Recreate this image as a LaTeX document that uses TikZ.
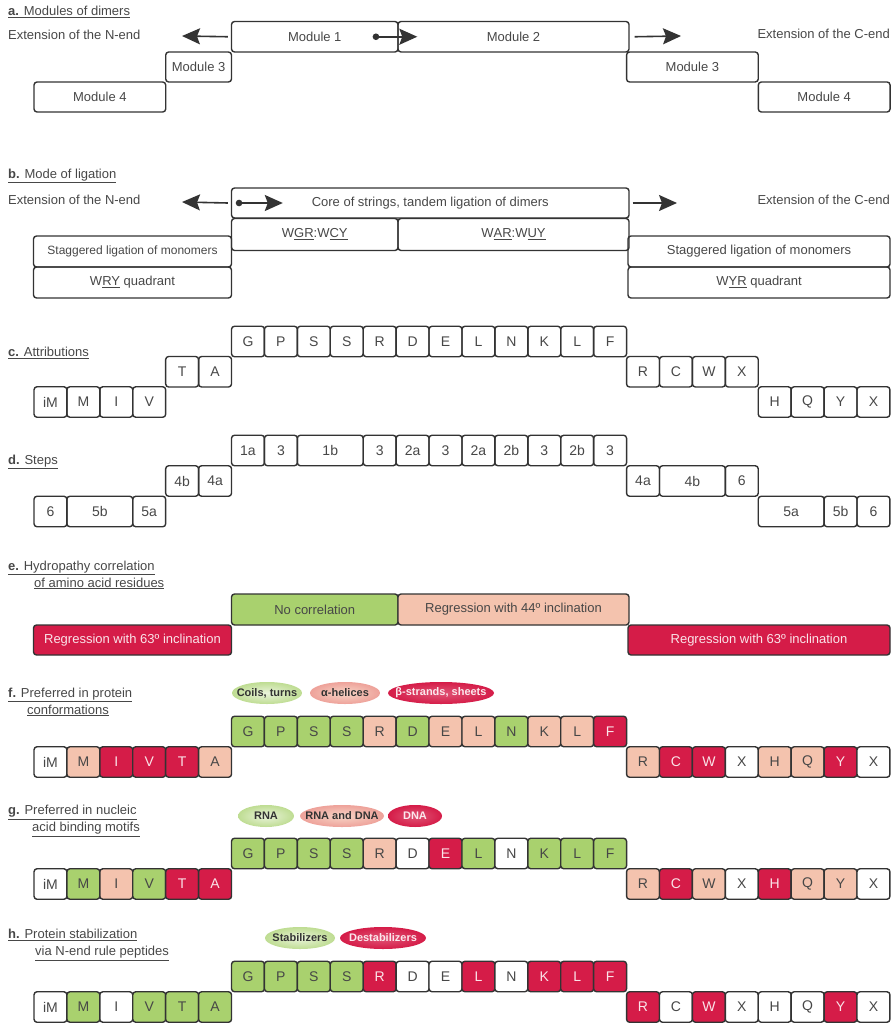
\documentclass[tikz,border=0pt]{standalone}
\usepackage{fontspec}
\setmainfont{Liberation Sans}
\usepackage{xcolor}
\definecolor{colGreen}{RGB}{169,209,110}
\definecolor{colSalmon}{RGB}{244,195,174}
\definecolor{colRed}{RGB}{213,28,72}
\colorlet{colLine}{black!80}
\colorlet{colText}{black!72}
% fill / text colour of a cell: w white, g green, s salmon, r red
\colorlet{flw}{white}\colorlet{txw}{colText}
\colorlet{flg}{colGreen}\colorlet{txg}{colText}
\colorlet{fls}{colSalmon}\colorlet{txs}{colText}
\colorlet{flr}{colRed}\colorlet{txr}{white!88!colRed}
\usepackage{tikz}
\usetikzlibrary{arrows.meta, positioning, shapes.geometric}
\tikzset{
  box/.style={draw=colLine, line width=1.4pt, rounded corners=3pt, inner sep=0pt, text=colText, font=\fontsize{13}{15}\selectfont},
  cell/.style={box, minimum width=32.92pt, minimum height=30.5pt, font=\fontsize{14}{16}\selectfont},
  title/.style={anchor=west, inner sep=0pt, text=colText, align=left, font=\fontsize{13}{17}\selectfont},
  tag/.style={ellipse, inner xsep=-20pt, inner ysep=0pt, minimum height=22pt, font=\bfseries\fontsize{11}{13}\selectfont, text=black!80},
  tagG/.style={tag, inner color=colGreen!25, outer color=colGreen!75},
  tagS/.style={tag, inner color=colSalmon!70, outer color=colSalmon!80!colRed},
  tagR/.style={tag, inner color=colRed!75, outer color=colRed, text=white!90!colRed},
  bigarrow/.style={line width=1.6pt, colLine, -{Stealth[length=18pt,width=16pt,inset=3pt]}},
  dotarrow/.style={line width=1.6pt, colLine, {Circle[length=6.5pt]}-{Stealth[length=18pt,width=16pt,inset=3pt]}},
}

\begin{document}
\begin{tikzpicture}[x=1pt, y=-1pt]
\useasboundingbox (0,0) rectangle (894,1024);

% a. modules of dimers
\node[title] (ta) at (8,12) {\underline{\textbf{a.} Modules of dimers}};
\node[title] (nA) at (8,35) {Extension of the N-end};
\node[title, anchor=east] (cA) at (890,34) {Extension of the C-end};
\node[box, minimum width=166.5pt, minimum height=30.5pt] (m1) at (314.75,36.75) {Module 1};
\node[box, minimum width=231pt, minimum height=30.5pt] (m2) at (513.5,36.75) {Module 2};
\node[box, minimum width=65.8pt, minimum height=30pt] (m3l) at (198.6,67) {Module 3};
\node[box, minimum width=131.7pt, minimum height=30pt] (m4l) at (99.85,97) {Module 4};
\node[box, minimum width=131.7pt, minimum height=30pt] (m3r) at (692.4,67) {Module 3};
\node[box, minimum width=131.7pt, minimum height=30pt] (m4r) at (824.2,97) {Module 4};
\coordinate (aNend) at (182,36);
\coordinate (aCend) at (681,36);
\draw[bigarrow] ([xshift=-3pt]m1.west) -- (aNend);
\draw[bigarrow] ([xshift=5pt]m2.east) -- (aCend);
\draw[dotarrow] ([xshift=-26pt]m1.east) -- ([xshift=20pt]m2.west);

% b. mode of ligation
\node[title] (tb) at (8,176) {\underline{\textbf{b.} Mode of ligation}};
\node[title] (nB) at (8,200) {Extension of the N-end};
\node[title, anchor=east] (cB) at (890,200) {Extension of the C-end};
\node[box, minimum width=397.5pt, minimum height=30pt] (core) at (430.25,203) {Core of strings, tandem ligation of dimers};
\node[box, minimum width=166.5pt, minimum height=32pt] (wgr) at (314.75,234.5) {W\underline{GR}:W\underline{CY}};
\node[box, minimum width=231pt, minimum height=32pt] (war) at (513.5,234.5) {W\underline{AR}:W\underline{UY}};
\node[box, minimum width=198pt, minimum height=31pt, font=\fontsize{12}{14}\selectfont] (stagl) at (132.5,251.5) {Staggered ligation of monomers};
\node[box, minimum width=198pt, minimum height=31pt] (wry) at (132.5,282.5) {W\underline{RY} quadrant};
\node[box, minimum width=262pt, minimum height=31pt] (stagr) at (759,251.5) {Staggered ligation of monomers};
\node[box, minimum width=262pt, minimum height=31pt] (wyr) at (759,282.5) {W\underline{YR} quadrant};
\coordinate (bNend) at (182,202);
\coordinate (bCend) at (677,203);
\draw[bigarrow] ([xshift=-3pt]core.west) -- (bNend);
\draw[bigarrow] ([xshift=3pt]core.east) -- (bCend);
\draw[dotarrow] ([xshift=5pt]core.west) -- ([xshift=52pt]core.west);

% c. attributions
\node[title] (tc) at (8,353) {\underline{\textbf{c.} Attributions}};
\foreach \t/\r [count=\i from 0] in {iM/3,M/3,I/3,V/3,T/2,A/2,G/1,P/1,S/1,S/1,R/1,D/1,E/1,L/1,N/1,K/1,L/1,F/1,R/2,C/2,W/2,X/2,H/3,Q/3,Y/3,X/3}
  \node[cell] (attr\i) at ({50.46+32.92*\i}, {341.5+30.25*(\r-1)}) {\t};

% d. steps
\node[title] (td) at (8,462) {\underline{\textbf{d.} Steps}};
\foreach \t/\c/\n/\r [count=\i] in {6/0/1/3, 5b/1/2/3, 5a/3/1/3, 4b/4/1/2, 4a/5/1/2, 1a/6/1/1, 3/7/1/1, 1b/8/2/1, 3/10/1/1, 2a/11/1/1, 3/12/1/1, 2a/13/1/1, 2b/14/1/1, 3/15/1/1, 2b/16/1/1, 3/17/1/1, 4a/18/1/2, 4b/19/2/2, 6/21/1/2, 5a/22/2/3, 5b/24/1/3, 6/25/1/3}
  \node[cell, minimum width={32.92pt*\n}] (step\i) at ({34+32.92*(\c+\n/2)}, {450.5+30.5*(\r-1)}) {\t};

% e. hydropathy
\node[title] (te) at (8,575) {\underline{\textbf{e.} Hydropathy correlation}\\\hspace*{26pt}\underline{of amino acid residues}};
\node[box, fill=colGreen, minimum width=166.5pt, minimum height=31pt] (nocor) at (314.75,609.5) {No correlation};
\node[box, fill=colSalmon, minimum width=231pt, minimum height=31pt] (reg44) at (513.5,609.5) {Regression with 44º inclination};
\node[box, fill=colRed, text=txr, minimum width=198pt, minimum height=30pt] (reg63l) at (132.5,640) {Regression with 63º inclination};
\node[box, fill=colRed, text=txr, minimum width=262pt, minimum height=30pt] (reg63r) at (759,640) {Regression with 63º inclination};

% f. protein conformations
\node[title] (tf) at (8,702) {\underline{\textbf{f.} Preferred in protein}\\\hspace*{19pt}\underline{conformations}};
\node[tagG, minimum width=70pt] (coil) at (267,693) {Coils, turns};
\node[tagS, minimum width=70pt] (helix) at (345,693) {α-helices};
\node[tagR, minimum width=106pt] (sheet) at (441,693) {β-strands, sheets};
\foreach \t/\k [count=\i from 0] in {iM/w,M/s,I/r,V/r,T/r,A/s,G/g,P/g,S/g,S/g,R/s,D/g,E/s,L/s,N/g,K/s,L/s,F/r,R/s,C/r,W/r,X/w,H/s,Q/s,Y/r,X/w}
  \node[cell, fill=fl\k, text=tx\k] (conf\i) at ({50.46+32.92*\i}, {762-30.5*(\i>5)*(\i<18)}) {\t};

% g. nucleic acid binding
\node[title] (tg) at (8,821) {\underline{\textbf{g.} Preferred in nucleic}\\\hspace*{24pt}\underline{acid binding motifs}};
\node[tagG, minimum width=56pt] (rna) at (266,816) {RNA};
\node[tagS, minimum width=84pt] (rnadna) at (342,816) {RNA and DNA};
\node[tagR, minimum width=54pt] (dna) at (415,816) {DNA};
\foreach \t/\k [count=\i from 0] in {iM/w,M/g,I/s,V/g,T/r,A/r,G/g,P/g,S/g,S/g,R/s,D/w,E/r,L/g,N/w,K/g,L/g,F/g,R/s,C/r,W/s,X/w,H/r,Q/s,Y/s,X/w}
  \node[cell, fill=fl\k, text=tx\k] (nucl\i) at ({50.46+32.92*\i}, {884-30.5*(\i>5)*(\i<18)}) {\t};

% h. N-end rule
\node[title] (th) at (8,945) {\underline{\textbf{h.} Protein stabilization}\\\hspace*{27pt}\underline{via N-end rule peptides}};
\node[tagG, minimum width=70pt] (stab) at (300,938) {Stabilizers};
\node[tagR, minimum width=86pt] (destab) at (383,938) {Destabilizers};
\foreach \t/\k [count=\i from 0] in {iM/w,M/g,I/w,V/g,T/g,A/g,G/g,P/g,S/g,S/g,R/r,D/w,E/w,L/r,N/w,K/r,L/r,F/r,R/r,C/w,W/r,X/w,H/w,Q/w,Y/r,X/w}
  \node[cell, fill=fl\k, text=tx\k] (stab\i) at ({50.46+32.92*\i}, {1007-30.5*(\i>5)*(\i<18)}) {\t};
\end{tikzpicture}
\end{document}
